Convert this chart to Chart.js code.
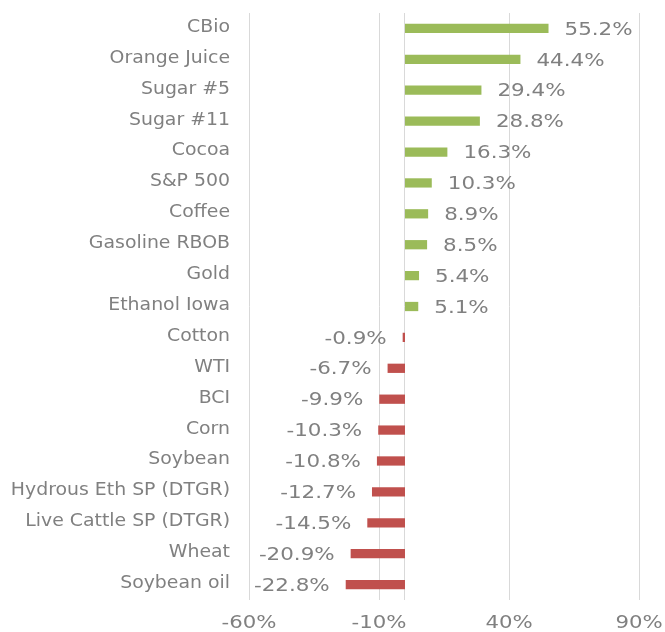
<!DOCTYPE html>
<html>
<head>
<meta charset="utf-8">
<script src="https://cdn.jsdelivr.net/npm/chart.js@4"></script>
<style>
html,body{margin:0;padding:0;background:#fff;}
#wrap{width:665px;height:632px;}
</style>
</head>
<body>
<div id="wrap"><canvas id="c" width="665" height="632"></canvas></div>
<script>
const categories = ["CBio","Orange Juice","Sugar #5","Sugar #11","Cocoa","S&P 500","Coffee","Gasoline RBOB","Gold","Ethanol Iowa","Cotton","WTI","BCI","Corn","Soybean","Hydrous Eth SP (DTGR)","Live Cattle SP (DTGR)","Wheat","Soybean oil"];
const values = [55.2,44.4,29.4,28.8,16.3,10.3,8.9,8.5,5.4,5.1,-0.9,-6.7,-9.9,-10.3,-10.8,-12.7,-14.5,-20.9,-22.8];
const xTicks = [-60,-10,40,90];

const POS = '#9BBB59', NEG = '#C0504D', TXT = '#808080', GRID = '#d9d9d9';
const FONT = '"DejaVu Sans", Verdana, sans-serif';

function drawText(ctx, t, x, y, align, sx) {
  ctx.save();
  ctx.translate(x, y);
  ctx.scale(sx, 1);
  ctx.textAlign = align;
  ctx.fillText(t, 0, 0);
  ctx.restore();
}

const labelPlugin = {
  id: 'barLabels',
  beforeDatasetsDraw(chart) {
    const {ctx, chartArea, scales} = chart;
    const x0 = scales.x.getPixelForValue(0);
    ctx.save();
    ctx.strokeStyle = GRID;
    ctx.lineWidth = 1;
    ctx.beginPath();
    ctx.moveTo(Math.round(x0) - 0.5, chartArea.top);
    ctx.lineTo(Math.round(x0) - 0.5, chartArea.bottom);
    ctx.stroke();
    ctx.restore();
  },
  afterDatasetsDraw(chart) {
    const {ctx, scales, chartArea} = chart;
    const meta = chart.getDatasetMeta(0);
    ctx.save();
    ctx.fillStyle = TXT;
    ctx.textBaseline = 'middle';

    // value labels
    ctx.font = '18px ' + FONT;
    meta.data.forEach((bar, i) => {
      const v = values[i];
      const t = v.toFixed(1) + '%';
      if (v >= 0) drawText(ctx, t, bar.x + 16, bar.y + 1.5, 'left', 1.19);
      else drawText(ctx, t, bar.x - 16, bar.y + 1.5, 'right', 1.19);
    });

    // category labels
    ctx.font = '17px ' + FONT;
    categories.forEach((c, i) => {
      drawText(ctx, c, scales.y.right - 19, scales.y.getPixelForValue(i) - 1, 'right', 1.11);
    });

    // x tick labels
    ctx.font = '17px ' + FONT;
    xTicks.forEach(v => {
      drawText(ctx, v + '%', scales.x.getPixelForValue(v), chartArea.bottom + 24, 'center', 1.25);
    });
    ctx.restore();
  }
};

new Chart(document.getElementById('c'), {
  type: 'bar',
  data: {
    labels: categories,
    datasets: [{
      data: values,
      backgroundColor: values.map(v => v >= 0 ? POS : NEG),
      borderWidth: 0,
      barPercentage: 0.3,
      categoryPercentage: 1.0
    }]
  },
  options: {
    indexAxis: 'y',
    responsive: false,
    animation: false,
    layout: { padding: { left: 0, right: 26, top: 13, bottom: 0 } },
    plugins: { legend: { display: false }, tooltip: { enabled: false } },
    scales: {
      x: {
        min: -60, max: 90,
        afterBuildTicks(scale) { scale.ticks = xTicks.map(v => ({value: v})); },
        afterFit(scale) { scale.height = 32; },
        grid: { color: GRID, drawTicks: false },
        border: { display: false },
        ticks: { display: false }
      },
      y: {
        afterFit(scale) { scale.width = 249; },
        grid: { display: false, drawTicks: false },
        border: { display: false },
        ticks: { display: false }
      }
    }
  },
  plugins: [labelPlugin]
});
</script>
</body>
</html>
